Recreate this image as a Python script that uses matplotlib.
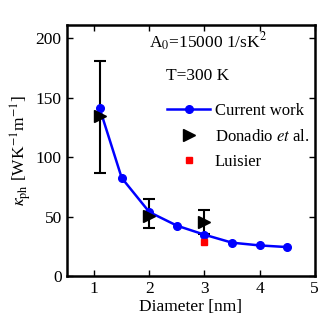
import matplotlib.pyplot as plt
import numpy as np

plt.rcParams['font.family'] = ['Liberation Serif', 'DejaVu Serif']
plt.rcParams['mathtext.fontset'] = 'stix'

# current work
d_cur = [1.1, 1.5, 2.0, 2.5, 3.0, 3.5, 4.0, 4.5]
k_cur = [141, 82.6, 54, 42.6, 35, 28.3, 26, 24.6]

# Donadio et al.
d_don = [1.1, 2.0, 3.0]
k_don = [134.5, 50.7, 45.6]
err_lo = [47.7, 10.1, 10.0]
err_hi = [46.5, 14.0, 9.9]

# Luisier
d_lui = [3.0]
k_lui = [29]

fig = plt.figure(figsize=(3.33, 3.33), dpi=100)
ax = fig.add_axes([0.2, 0.17, 0.745, 0.755])

ax.errorbar(d_don, k_don, yerr=[err_lo, err_hi], fmt='none', ecolor='k',
            elinewidth=1.5, capsize=4, capthick=1.5, zorder=1)
ax.plot(d_cur, k_cur, 'o-', color='#0000ff', lw=1.8, ms=5.5, label='Current work', zorder=2)
ax.plot(d_don, k_don, '>', color='k', ms=9, ls='none', label='Donadio $\\it{et}$ al.', zorder=3)
ax.plot(d_lui, k_lui, 's', color='#ff0000', ms=4.5, ls='none', label='Luisier', zorder=3)

ax.set_xlim(0.5, 5)
ax.set_ylim(0, 211)
ax.set_xticks([1, 2, 3, 4, 5])
ax.set_yticks([0, 50, 100, 150, 200])
ax.tick_params(direction='in', top=True, right=True, labelsize=12.5, length=4, width=1)
for s in ax.spines.values():
    s.set_linewidth(1.8)

ax.set_xlabel('Diameter [nm]', fontsize=12.5, labelpad=1)
ax.set_ylabel('$\\kappa_{\\mathrm{ph}}$ [WK$^{-1}$m$^{-1}$]', fontsize=12.5, labelpad=2)

ax.text(2.0, 192, 'A$_0$=15000 1/sK$^2$', fontsize=12.5)
ax.text(2.31, 165, 'T=300 K', fontsize=12.5)

ax.legend(loc='upper left', bbox_to_anchor=(0.405, 0.69), frameon=False, fontsize=12,
          handlelength=2.6, handletextpad=0.25, labelspacing=0.58, borderpad=0,
          borderaxespad=0)

plt.savefig('out.png', dpi=100)
